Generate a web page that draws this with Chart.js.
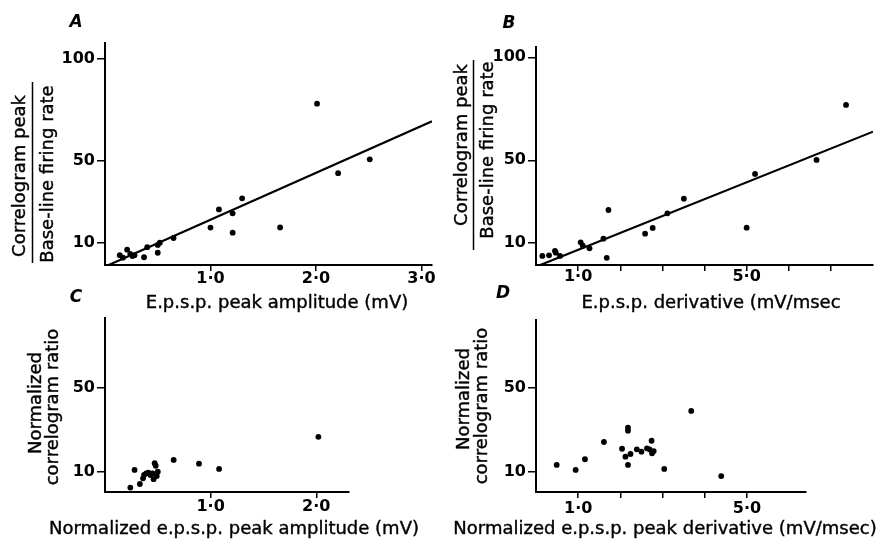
<!DOCTYPE html>
<html>
<head>
<meta charset="utf-8">
<script src="https://cdn.jsdelivr.net/npm/chart.js@4.4.1/dist/chart.umd.min.js"></script>
<style>
  body { margin: 0; background: #fff; }
  #wrap { position: relative; width: 882px; height: 542px; }
  canvas { position: absolute; left: 0; top: 0; }
</style>
</head>
<body>
<div id="wrap">
  <canvas id="chartA" width="882" height="542"></canvas>
  <canvas id="chartB" width="882" height="542"></canvas>
  <canvas id="chartC" width="882" height="542"></canvas>
  <canvas id="chartD" width="882" height="542"></canvas>
</div>
<script>
// PANEL A: peak amplitude vs correlogram peak / base-line rate
const aAmp   = [0.14, 0.17, 0.21, 0.24, 0.26, 0.28, 0.37, 0.40, 0.50, 0.50, 0.52, 0.65, 1.00, 1.08, 1.21, 1.21, 1.30, 1.66, 2.01, 2.21, 2.51];
const aRatio = [4.0, 2.8, 6.7, 4.6, 3.6, 4.0, 3.0, 7.9, 5.2, 9.0, 10.1, 12.4, 17.5, 26.4, 24.5, 15.0, 31.8, 17.6, 78.1, 44.1, 50.9];
const aFitX  = [0.035, 3.1];
const aFitY  = [-0.8, 69.5];

// PANEL B: derivative vs correlogram peak / base-line rate
const bDeriv = [0.15, 0.31, 0.45, 0.47, 0.57, 1.06, 1.11, 1.27, 1.60, 1.68, 1.72, 2.59, 2.77, 3.12, 3.51, 5.00, 5.20, 6.66, 7.36];
const bRatio = [3.6, 3.9, 6.1, 5.2, 3.6, 10.2, 8.6, 7.3, 12.0, 2.7, 25.9, 14.4, 17.2, 24.3, 31.4, 17.3, 43.4, 50.2, 76.9];
const bFitX  = [0.1, 8.0];
const bFitY  = [-0.8, 63.9];

// PANEL C: normalized amplitude vs normalized ratio
const cAmp   = [0.24, 0.28, 0.33, 0.36, 0.37, 0.39, 0.41, 0.43, 0.45, 0.46, 0.47, 0.48, 0.49, 0.50, 0.65, 0.89, 1.08, 2.02];
const cRatio = [2.4, 10.8, 4.1, 6.8, 8.4, 9.2, 9.5, 8.4, 9.2, 6.4, 14.0, 12.8, 7.9, 10.0, 15.6, 13.8, 11.3, 26.6];

// PANEL D: normalized derivative vs normalized ratio
const dDeriv = [0.49, 0.94, 1.16, 1.61, 2.04, 2.12, 2.18, 2.18, 2.18, 2.24, 2.39, 2.50, 2.63, 2.69, 2.74, 2.75, 2.79, 3.04, 3.68, 4.39];
const dRatio = [13.2, 10.8, 15.9, 24.1, 20.9, 17.1, 30.9, 29.5, 13.2, 18.4, 20.6, 19.5, 21.1, 20.6, 24.7, 18.7, 19.8, 11.3, 38.9, 7.9];

// TICKS
const yTicksTop    = [10, 50, 100];
const yLabelsTop   = ['10', '50', '100'];
const yTicksBottom = [10, 50];
const yLabelsBottom = ['10', '50'];
const ampTicksA  = [1, 2, 3];
const ampLabelsA = ['1·0', '2·0', '3·0'];
const derivTicksB  = [1, 2, 3, 4, 5, 6, 7];
const derivLabelsB = ['1·0', '', '', '', '5·0', '', ''];
const ampTicksC  = [1, 2];
const ampLabelsC = ['1·0', '2·0'];
const derivTicksD  = [1, 2, 3, 4, 5];
const derivLabelsD = ['1·0', '', '', '', '5·0'];

const FONT = '"DejaVu Sans", sans-serif';
const Y_AXIS_W = 50;   // room kept for y tick labels
const X_AXIS_H = 30;   // room kept for x tick labels

function toPoints(xs, ys) {
  return xs.map((x, i) => ({ x: x, y: ys[i] }));
}

// text that chart.js has no slot for: panel letter, axis titles, fraction rule
const panelText = {
  id: 'panelText',
  afterDraw(chart, args, opts) {
    const ctx = chart.ctx;
    ctx.save();
    ctx.fillStyle = '#000';
    ctx.strokeStyle = '#000';
    ctx.textAlign = 'center';
    ctx.textBaseline = 'alphabetic';

    ctx.font = 'italic bold 17px ' + FONT;
    ctx.fillText(opts.letter, opts.letterX, opts.letterY);

    // printed titles are a bit heavier than the regular face
    ctx.font = '18px ' + FONT;
    ctx.lineWidth = 0.4;
    ctx.fillText(opts.xTitle, opts.xTitleX, opts.xTitleY);
    ctx.strokeText(opts.xTitle, opts.xTitleX, opts.xTitleY);

    opts.yTitle.forEach(t => {
      ctx.save();
      ctx.translate(t.x, t.y);
      ctx.rotate(-Math.PI / 2);
      ctx.fillText(t.text, 0, 0);
      ctx.strokeText(t.text, 0, 0);
      ctx.restore();
    });

    if (opts.rule) {
      ctx.lineWidth = 1.5;
      ctx.beginPath();
      ctx.moveTo(opts.rule.x, opts.rule.y1);
      ctx.lineTo(opts.rule.x, opts.rule.y2);
      ctx.stroke();
    }
    ctx.restore();
  }
};

function makeAxis(horizontal, min, max, ticks, labels, tickLength, padding) {
  return {
    type: 'linear',
    min: min,
    max: max,
    afterBuildTicks: s => { s.ticks = ticks.map(v => ({ value: v })); },
    afterFit: s => { if (horizontal) s.height = X_AXIS_H; else s.width = Y_AXIS_W; },
    grid: {
      display: true,
      drawOnChartArea: false,
      drawTicks: true,
      tickLength: tickLength,
      color: '#000',
      lineWidth: 1.5
    },
    border: { display: true, color: '#000', width: 2 },
    ticks: {
      autoSkip: false,
      maxRotation: 0,
      padding: padding,
      color: '#000',
      font: { family: FONT, weight: 'bold', size: 16, lineHeight: 1 },
      callback: (value, index) => labels[index]
    }
  };
}

// box = wanted plot rectangle in page pixels
function createPanel(id, cfg) {
  const datasets = [{
    data: toPoints(cfg.xs, cfg.ys),
    pointRadius: 2.9,
    pointBackgroundColor: '#000',
    pointBorderWidth: 0
  }];
  if (cfg.fitX) {
    datasets.push({
      data: toPoints(cfg.fitX, cfg.fitY),
      showLine: true,
      pointRadius: 0,
      borderColor: '#000',
      borderWidth: 2.2
    });
  }
  const b = cfg.box;
  return new Chart(document.getElementById(id), {
    type: 'scatter',
    data: { datasets: datasets },
    options: {
      responsive: false,
      animation: false,
      devicePixelRatio: 1,
      layout: {
        padding: {
          left: b.left - Y_AXIS_W,
          top: b.top,
          right: 882 - b.right,
          bottom: 542 - b.bottom - X_AXIS_H
        }
      },
      plugins: {
        legend: { display: false },
        tooltip: { enabled: false },
        panelText: cfg.text
      },
      scales: {
        x: makeAxis(true, cfg.xMin, cfg.xMax, cfg.xTicks, cfg.xLabels, 6, cfg.xPad),
        y: makeAxis(false, cfg.yMin, cfg.yMax, cfg.yTicks, cfg.yLabels, 8, 2)
      }
    },
    plugins: [panelText]
  });
}

createPanel('chartA', {
  xs: aAmp, ys: aRatio, fitX: aFitX, fitY: aFitY,
  box: { left: 105, top: 43, right: 432, bottom: 265 },
  xMin: 0, xMax: 3.1, xTicks: ampTicksA, xLabels: ampLabelsA, xPad: 0,
  yMin: -0.8, yMax: 107.8, yTicks: yTicksTop, yLabels: yLabelsTop,
  text: {
    letter: 'A', letterX: 76, letterY: 27,
    xTitle: 'E.p.s.p. peak amplitude (mV)', xTitleX: 277, xTitleY: 308,
    yTitle: [
      { text: 'Correlogram peak', x: 25, y: 176 },
      { text: 'Base-line firing rate', x: 53, y: 174 }
    ],
    rule: { x: 32.5, y1: 82, y2: 263 }
  }
});

createPanel('chartB', {
  xs: bDeriv, ys: bRatio, fitX: bFitX, fitY: bFitY,
  box: { left: 536, top: 47, right: 873, bottom: 265 },
  xMin: 0, xMax: 8, xTicks: derivTicksB, xLabels: derivLabelsB, xPad: -2,
  yMin: -0.8, yMax: 105, yTicks: yTicksTop, yLabels: yLabelsTop,
  text: {
    letter: 'B', letterX: 509, letterY: 28,
    xTitle: 'E.p.s.p. derivative (mV/msec', xTitleX: 711, xTitleY: 308,
    yTitle: [
      { text: 'Correlogram peak', x: 467, y: 145 },
      { text: 'Base-line firing rate', x: 493, y: 150 }
    ],
    rule: { x: 473.5, y1: 60, y2: 250 }
  }
});

createPanel('chartC', {
  xs: cAmp, ys: cRatio,
  box: { left: 105, top: 318, right: 349, bottom: 492 },
  xMin: 0, xMax: 2.31, xTicks: ampTicksC, xLabels: ampLabelsC, xPad: 1,
  yMin: 0.3, yMax: 83.2, yTicks: yTicksBottom, yLabels: yLabelsBottom,
  text: {
    letter: 'C', letterX: 76, letterY: 302,
    xTitle: 'Normalized e.p.s.p. peak amplitude (mV)', xTitleX: 234, xTitleY: 534,
    yTitle: [
      { text: 'Normalized', x: 41, y: 403 },
      { text: 'correlogram ratio', x: 58, y: 407 }
    ]
  }
});

createPanel('chartD', {
  xs: dDeriv, ys: dRatio,
  box: { left: 536, top: 320, right: 806, bottom: 492 },
  xMin: 0, xMax: 6.4, xTicks: derivTicksD, xLabels: derivLabelsD, xPad: 3,
  yMin: 0.3, yMax: 82.2, yTicks: yTicksBottom, yLabels: yLabelsBottom,
  text: {
    letter: 'D', letterX: 503, letterY: 298,
    xTitle: 'Normalized e.p.s.p. peak derivative (mV/msec)', xTitleX: 665, xTitleY: 534,
    yTitle: [
      { text: 'Normalized', x: 469, y: 399 },
      { text: 'correlogram ratio', x: 487, y: 406 }
    ]
  }
});
</script>
</body>
</html>
